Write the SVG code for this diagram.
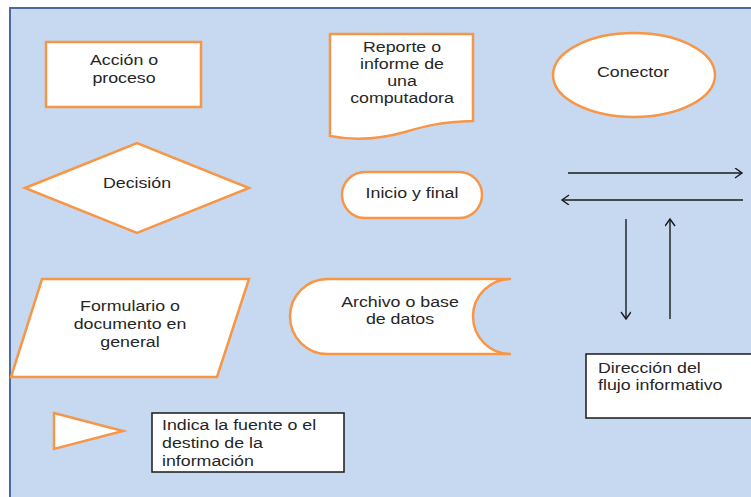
<svg xmlns="http://www.w3.org/2000/svg" width="751" height="497" viewBox="0 0 751 497">
<defs>
<style>
.shape{fill:#ffffff;stroke:#f79646;stroke-width:2.5}
.box{fill:#ffffff;stroke:#1a1a1a;stroke-width:1.5}
.t{font-family:"Liberation Sans",Arial,sans-serif;font-size:14px;fill:#262626}
.c{text-anchor:middle}
.flow{stroke:#1a1a1a;stroke-width:1.4;fill:none;marker-end:url(#arr)}
</style>
<marker id="arr" markerUnits="userSpaceOnUse" markerWidth="12" markerHeight="12" refX="8" refY="5" orient="auto">
<path d="M1,0 L8,5 L1,10" fill="none" stroke="#1a1a1a" stroke-width="1.4"/>
</marker>
</defs>
<rect x="0" y="0" width="751" height="497" fill="#ffffff"/>
<rect x="10" y="8" width="745" height="495" fill="#c6d9f0" stroke="#4a6b9c" stroke-width="2"/>

<g id="accion">
<rect class="shape" x="46" y="42" width="155" height="65"/>
<text class="t c" transform="translate(124,65) scale(1.27,1)">Acción o</text>
<text class="t c" transform="translate(124,83) scale(1.27,1)">proceso</text>
</g>

<g id="reporte">
<path class="shape" d="M330,34 H473 V121 C440,122 425,126 405,132 C380,139 355,141 330,136 Z"/>
<text class="t c" transform="translate(402,52) scale(1.27,1)">Reporte o</text>
<text class="t c" transform="translate(402,69) scale(1.27,1)">informe de</text>
<text class="t c" transform="translate(402,86) scale(1.27,1)">una</text>
<text class="t c" transform="translate(402,103) scale(1.27,1)">computadora</text>
</g>

<g id="conector">
<ellipse class="shape" cx="634" cy="75" rx="81" ry="42"/>
<text class="t c" transform="translate(633,77) scale(1.27,1)">Conector</text>
</g>

<g id="decision">
<polygon class="shape" points="25,188 137,143 249,188 137,233"/>
<text class="t c" transform="translate(137,188) scale(1.27,1)">Decisión</text>
</g>

<g id="inicio">
<rect class="shape" x="342" y="172" width="140" height="46" rx="23" ry="23"/>
<text class="t c" transform="translate(412,198) scale(1.27,1)">Inicio y final</text>
</g>

<g id="formulario">
<polygon class="shape" points="42,279 249,279 217,377 11,377"/>
<text class="t c" transform="translate(130,311) scale(1.27,1)">Formulario o</text>
<text class="t c" transform="translate(130,329) scale(1.27,1)">documento en</text>
<text class="t c" transform="translate(130,347) scale(1.27,1)">general</text>
</g>

<g id="archivo">
<path class="shape" d="M327.5,279 H511 A38,37.5 0 0 0 511,354 H327.5 A37.5,37.5 0 0 1 327.5,279 Z"/>
<text class="t c" transform="translate(400,307) scale(1.27,1)">Archivo o base</text>
<text class="t c" transform="translate(400,324) scale(1.27,1)">de datos</text>
</g>

<g id="fuente">
<polygon class="shape" points="54,413 123,431 54,449"/>
</g>

<g id="fuente-label">
<rect class="box" x="152" y="413" width="192" height="59"/>
<text class="t" transform="translate(162,430) scale(1.27,1)">Indica la fuente o el</text>
<text class="t" transform="translate(162,448) scale(1.27,1)">destino de la</text>
<text class="t" transform="translate(162,466) scale(1.27,1)">información</text>
</g>

<g id="direccion-label">
<rect class="box" x="586" y="354" width="175" height="64"/>
<text class="t" transform="translate(598,373) scale(1.27,1)">Dirección del</text>
<text class="t" transform="translate(598,390) scale(1.27,1)">flujo informativo</text>
</g>

<g id="connectors">
<line class="flow" x1="568" y1="173" x2="742" y2="173"/>
<line class="flow" x1="743" y1="200" x2="562" y2="200"/>
<line class="flow" x1="626" y1="219" x2="626" y2="319"/>
<line class="flow" x1="670" y1="319" x2="670" y2="219"/>
</g>
</svg>
